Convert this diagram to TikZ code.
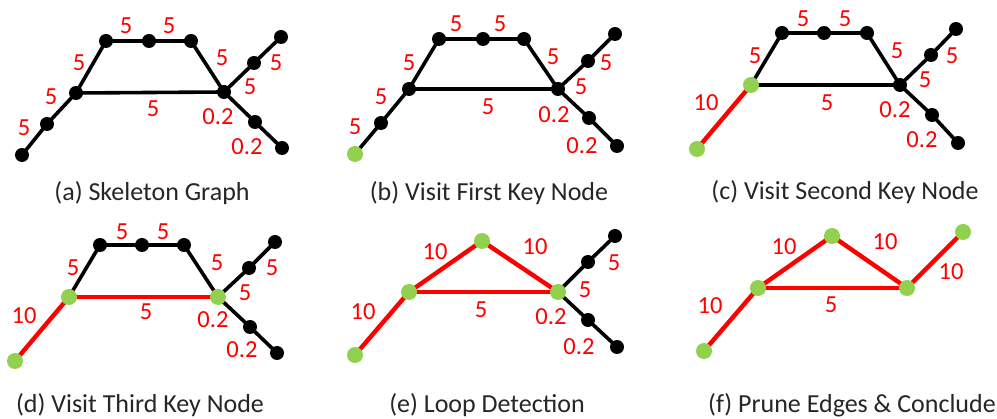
\documentclass[tikz,border=0pt]{standalone}
\usepackage{fontspec}
\setmainfont{Carlito}
\usetikzlibrary{backgrounds}
\definecolor{kred}{RGB}{255,0,0}
\definecolor{kgreen}{RGB}{146,208,80}
\definecolor{captxt}{RGB}{38,38,38}
\tikzset{
 bn/.style={circle,fill=black,inner sep=0pt,minimum size=14pt},
 gn/.style={circle,fill=kgreen,inner sep=0pt,minimum size=16pt},
 bedge/.style={draw=black,line width=3.6pt},
 redge/.style={draw=kred,line width=4.4pt},
 lab/.style={text=kred,font=\fontsize{24.5}{28}\selectfont,inner sep=0pt},
 captext/.style={text=captxt,font=\fontsize{26}{30}\selectfont,inner sep=0pt},
}
\begin{document}
\begin{tikzpicture}[x=1pt,y=-1pt]
\useasboundingbox (0,0) rectangle (997,419);
% ---------- panel a ----------
\node[bn] (a1) at (22,155) {};
\node[bn] (a2) at (47,124) {};
\node[bn] (a3) at (76,93) {};
\node[bn] (a4) at (106,41) {};
\node[bn] (a5) at (149,41) {};
\node[bn] (a6) at (191,41) {};
\node[bn] (a7) at (224,92) {};
\node[bn] (a8) at (254,63) {};
\node[bn] (a9) at (281,37) {};
\node[bn] (a10) at (255,122) {};
\node[bn] (a11) at (282,148) {};
\node[lab] (la1) at (126,26) {5};
\node[lab] (la2) at (169,26) {5};
\node[lab] (la3) at (79,63) {5};
\node[lab] (la4) at (51,97) {5};
\node[lab] (la5) at (24,128) {5};
\node[lab] (la6) at (153,109) {5};
\node[lab] (la7) at (222,58) {5};
\node[lab] (la8) at (276,63) {5};
\node[lab] (la9) at (250,87) {5};
\node[lab] (la10) at (218,117) {0.2};
\node[lab] (la11) at (247,147) {0.2};
\node[captext] (ca) at (152,193) {(a) Skeleton Graph};
% ---------- panel b ----------
\node[gn] (b1) at (355,154) {};
\node[bn] (b2) at (381,123) {};
\node[bn] (b3) at (409,89) {};
\node[bn] (b4) at (439,39) {};
\node[bn] (b5) at (483,39) {};
\node[bn] (b6) at (524,39) {};
\node[bn] (b7) at (558,89) {};
\node[bn] (b8) at (588,61) {};
\node[bn] (b9) at (615,34) {};
\node[bn] (b10) at (589,118) {};
\node[bn] (b11) at (617,146) {};
\node[lab] (lb1) at (456,24) {5};
\node[lab] (lb2) at (500,24) {5};
\node[lab] (lb3) at (409,63) {5};
\node[lab] (lb4) at (381,97) {5};
\node[lab] (lb5) at (355,127) {5};
\node[lab] (lb6) at (488,107) {5};
\node[lab] (lb7) at (553,57) {5};
\node[lab] (lb8) at (606,63) {5};
\node[lab] (lb9) at (581,87) {5};
\node[lab] (lb10) at (554,115) {0.2};
\node[lab] (lb11) at (582,146) {0.2};
\node[captext] (cb) at (489,193) {(b) Visit First Key Node};
% ---------- panel c ----------
\node[gn] (c1) at (697,149) {};
\node[gn] (c3) at (751,85) {};
\node[bn] (c4) at (782,33) {};
\node[bn] (c5) at (824,33) {};
\node[bn] (c6) at (867,33) {};
\node[bn] (c7) at (900,85) {};
\node[bn] (c8) at (931,55) {};
\node[bn] (c9) at (956,29) {};
\node[bn] (c10) at (932,115) {};
\node[bn] (c11) at (958,143) {};
\node[lab] (lc1) at (706,103) {10};
\node[lab] (lc2) at (755,56) {5};
\node[lab] (lc3) at (803,19) {5};
\node[lab] (lc4) at (845,19) {5};
\node[lab] (lc5) at (897,51) {5};
\node[lab] (lc6) at (952,56) {5};
\node[lab] (lc7) at (925,80) {5};
\node[lab] (lc8) at (827,103) {5};
\node[lab] (lc9) at (895,110) {0.2};
\node[lab] (lc10) at (922,140) {0.2};
\node[captext] (cc) at (845,192) {(c) Visit Second Key Node};
% ---------- panel d ----------
\node[gn] (d1) at (15,361) {};
\node[gn] (d3) at (69,297) {};
\node[bn] (d4) at (100,245) {};
\node[bn] (d5) at (142,245) {};
\node[bn] (d6) at (184,245) {};
\node[gn] (d7) at (218,297) {};
\node[bn] (d8) at (249,268) {};
\node[bn] (d9) at (275,242) {};
\node[bn] (d10) at (250,327) {};
\node[bn] (d11) at (277,353) {};
\node[lab] (ld1) at (24,316) {10};
\node[lab] (ld2) at (73,268) {5};
\node[lab] (ld3) at (122,232) {5};
\node[lab] (ld4) at (163,232) {5};
\node[lab] (ld5) at (217,263) {5};
\node[lab] (ld6) at (272,268) {5};
\node[lab] (ld7) at (245,293) {5};
\node[lab] (ld8) at (146,312) {5};
\node[lab] (ld9) at (213,320) {0.2};
\node[lab] (ld10) at (242,350) {0.2};
\node[captext] (cd) at (140,405) {(d) Visit Third Key Node};
% ---------- panel e ----------
\node[gn] (e1) at (355,355) {};
\node[gn] (e3) at (409,292) {};
\node[gn] (e4) at (482,241) {};
\node[gn] (e7) at (558,292) {};
\node[bn] (e8) at (588,262) {};
\node[bn] (e9) at (615,236) {};
\node[bn] (e10) at (588,320) {};
\node[bn] (e11) at (617,347) {};
\node[lab] (le1) at (363,312) {10};
\node[lab] (le2) at (435,252) {10};
\node[lab] (le3) at (535,247) {10};
\node[lab] (le4) at (481,310) {5};
\node[lab] (le5) at (614,263) {5};
\node[lab] (le6) at (585,290) {5};
\node[lab] (le7) at (551,317) {0.2};
\node[lab] (le8) at (579,347) {0.2};
\node[captext] (ce) at (487,405) {(e) Loop Detection};
% ---------- panel f ----------
\node[gn] (f1) at (704,351) {};
\node[gn] (f3) at (758,288) {};
\node[gn] (f4) at (832,236) {};
\node[gn] (f7) at (907,288) {};
\node[gn] (f9) at (963,232) {};
\node[lab] (lf1) at (710,306) {10};
\node[lab] (lf2) at (784,247) {10};
\node[lab] (lf3) at (885,242) {10};
\node[lab] (lf4) at (951,272) {10};
\node[lab] (lf5) at (831,305) {5};
\node[captext] (cf) at (852,405) {(f) Prune Edges \& Conclude};
% ---------- edges ----------
\begin{scope}[on background layer]
\fill[white] (0,0) rectangle (997,419);
\draw[bedge] (a1.center)--(a2.center)--(a3.center)--(a4.center)--(a5.center)--(a6.center)--(a7.center)--(a8.center)--(a9.center);
\draw[bedge] (a3.center)--(a7.center);
\draw[bedge] (a7.center)--(a10.center)--(a11.center);
\draw[bedge] (b1.center)--(b2.center)--(b3.center)--(b4.center)--(b5.center)--(b6.center)--(b7.center)--(b8.center)--(b9.center);
\draw[bedge] (b3.center)--(b7.center);
\draw[bedge] (b7.center)--(b10.center)--(b11.center);
\draw[redge] (c1.center)--(c3.center);
\draw[bedge] (c3.center)--(c4.center)--(c5.center)--(c6.center)--(c7.center)--(c8.center)--(c9.center);
\draw[bedge] (c3.center)--(c7.center);
\draw[bedge] (c7.center)--(c10.center)--(c11.center);
\draw[redge] (d1.center)--(d3.center);
\draw[redge] (d3.center)--(d7.center);
\draw[bedge] (d3.center)--(d4.center)--(d5.center)--(d6.center)--(d7.center)--(d8.center)--(d9.center);
\draw[bedge] (d7.center)--(d10.center)--(d11.center);
\draw[redge] (e1.center)--(e3.center)--(e4.center)--(e7.center);
\draw[redge] (e3.center)--(e7.center);
\draw[bedge] (e7.center)--(e8.center)--(e9.center);
\draw[bedge] (e7.center)--(e10.center)--(e11.center);
\draw[redge] (f1.center)--(f3.center)--(f4.center)--(f7.center)--(f9.center);
\draw[redge] (f3.center)--(f7.center);
\end{scope}
\end{tikzpicture}
\end{document}
